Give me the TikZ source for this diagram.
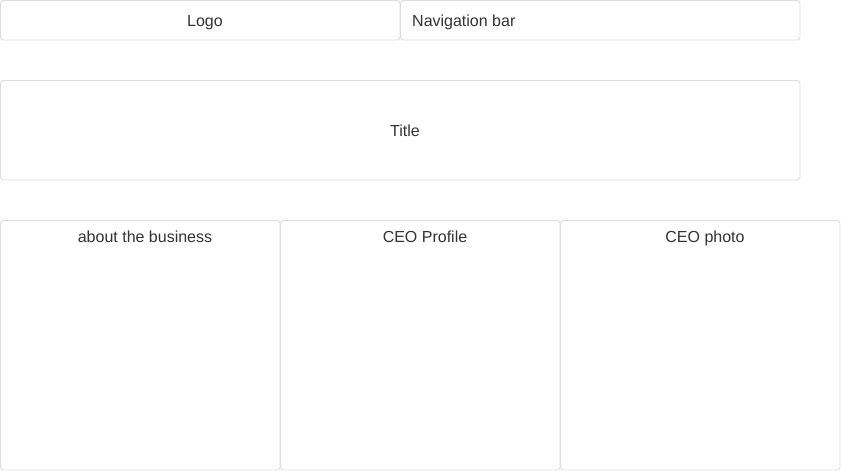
\documentclass[tikz,border=0pt]{standalone}
\usepackage{fontspec}
\setmainfont{Liberation Sans}
\definecolor{boxline}{HTML}{DDDDDD}
\definecolor{txt}{HTML}{333333}
\begin{document}
\begin{tikzpicture}[x=1pt,y=-1pt,
  wire/.style={draw=boxline,line width=0.9pt,rounded corners=3pt,fill=white},
  lbl/.style={text=txt,font=\fontsize{16}{19}\selectfont,inner sep=0pt,anchor=base}]
\useasboundingbox (0,0) rectangle (841,471);
\path[wire] (0.5,0.5) rectangle (400,40);
\node[lbl] (logo) at (205,26.3) {Logo};
\path[wire] (400.5,0.5) rectangle (800,40);
\node[lbl,anchor=base west] (nav) at (412,26.3) {Navigation bar};
\path[wire] (0.5,80.5) rectangle (800,180);
\node[lbl] (title) at (405,136.3) {Title};
\path[wire] (0.5,220.5) rectangle (280,470);
\node[lbl] (about) at (145,242.3) {about the business};
\path[wire] (280.5,220.5) rectangle (560,470);
\node[lbl] (profile) at (425,242.3) {CEO Profile};
\path[wire] (560.5,220.5) rectangle (840,470);
\node[lbl] (photo) at (705,242.3) {CEO photo};
\end{tikzpicture}
\end{document}
